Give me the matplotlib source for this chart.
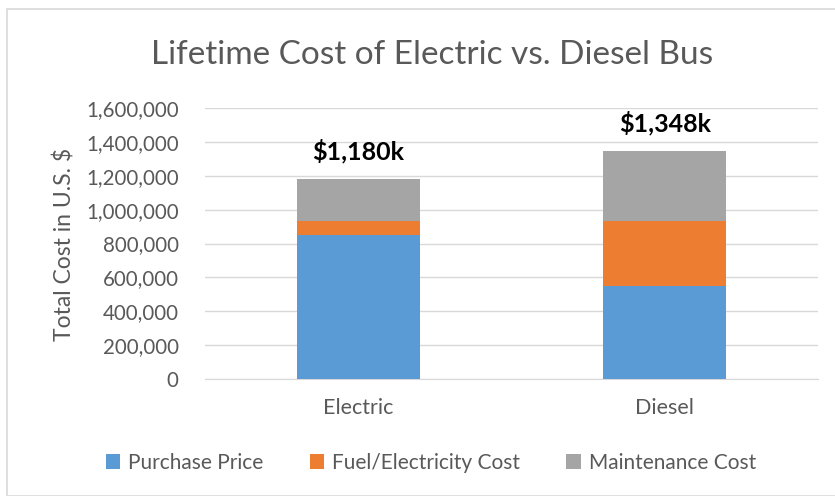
import matplotlib.pyplot as plt
from matplotlib.patches import Rectangle
import numpy as np

plt.rcParams['font.family'] = ['Lato', 'DejaVu Sans']

categories = ['Electric', 'Diesel']
purchase = [850000, 550000]
fuel = [80000, 380000]
maintenance = [250000, 418000]
total_labels = ['$1,180k', '$1,348k']

blue = '#5b9bd5'
orange = '#ed7d31'
gray = '#a5a5a5'
text_gray = '#595959'

fig = plt.figure(figsize=(8.35, 4.96), dpi=100)
fig.patches.append(Rectangle((7/835, 0.0), 1.0, 1 - 9/496, transform=fig.transFigure,
                             fill=False, edgecolor='#d9d9d9', linewidth=1.2))
ax = fig.add_axes([205/835, 1 - 379/496, 613/835, 271/496])

x = np.arange(len(categories))
w = 0.4
ax.bar(x, purchase, w, color=blue, label='Purchase Price', zorder=3)
ax.bar(x, fuel, w, bottom=purchase, color=orange, label='Fuel/Electricity Cost', zorder=3)
bottom2 = [p + f for p, f in zip(purchase, fuel)]
ax.bar(x, maintenance, w, bottom=bottom2, color=gray, label='Maintenance Cost', zorder=3)

totals = [b + m for b, m in zip(bottom2, maintenance)]
for xi, t, lab in zip(x, totals, total_labels):
    ax.annotate(lab, (xi, t), xytext=(0, 20), textcoords='offset points',
                ha='center', va='center', fontsize=18, fontweight='bold', color='black')

ax.set_xlim(-0.5, 1.5)
ax.set_ylim(0, 1600000)
ax.set_yticks(np.arange(0, 1600001, 200000))
ax.yaxis.set_major_formatter(plt.FuncFormatter(lambda v, p: f'{int(v):,}'))
ax.set_xticks(x)
ax.set_xticklabels(categories)
ax.tick_params(axis='both', length=0, labelcolor=text_gray)
ax.tick_params(axis='x', pad=14, labelsize=15.5)
ax.tick_params(axis='y', pad=19, labelsize=14.8)
ax.grid(axis='y', color='#d9d9d9', linewidth=1, zorder=0)
for s in ['top', 'right', 'left']:
    ax.spines[s].set_visible(False)
ax.spines['bottom'].set_color('#d9d9d9')

fig.text(64/835, 1 - 244/496, 'Total Cost in U.S. $', rotation=90, ha='center', va='center',
         fontsize=16.5, color=text_gray)
fig.text(0.518, 1 - 55/496, 'Lifetime Cost of Electric vs. Diesel Bus', ha='center', va='center',
         fontsize=24, color=text_gray)

fig.legend(loc='center', bbox_to_anchor=(431/835, 1 - 463/496), ncol=3, frameon=False,
           fontsize=15, labelcolor=text_gray, handlelength=0.7, handleheight=0.7,
           columnspacing=2.2, handletextpad=0.4)

fig.savefig('out.png', dpi=100)
